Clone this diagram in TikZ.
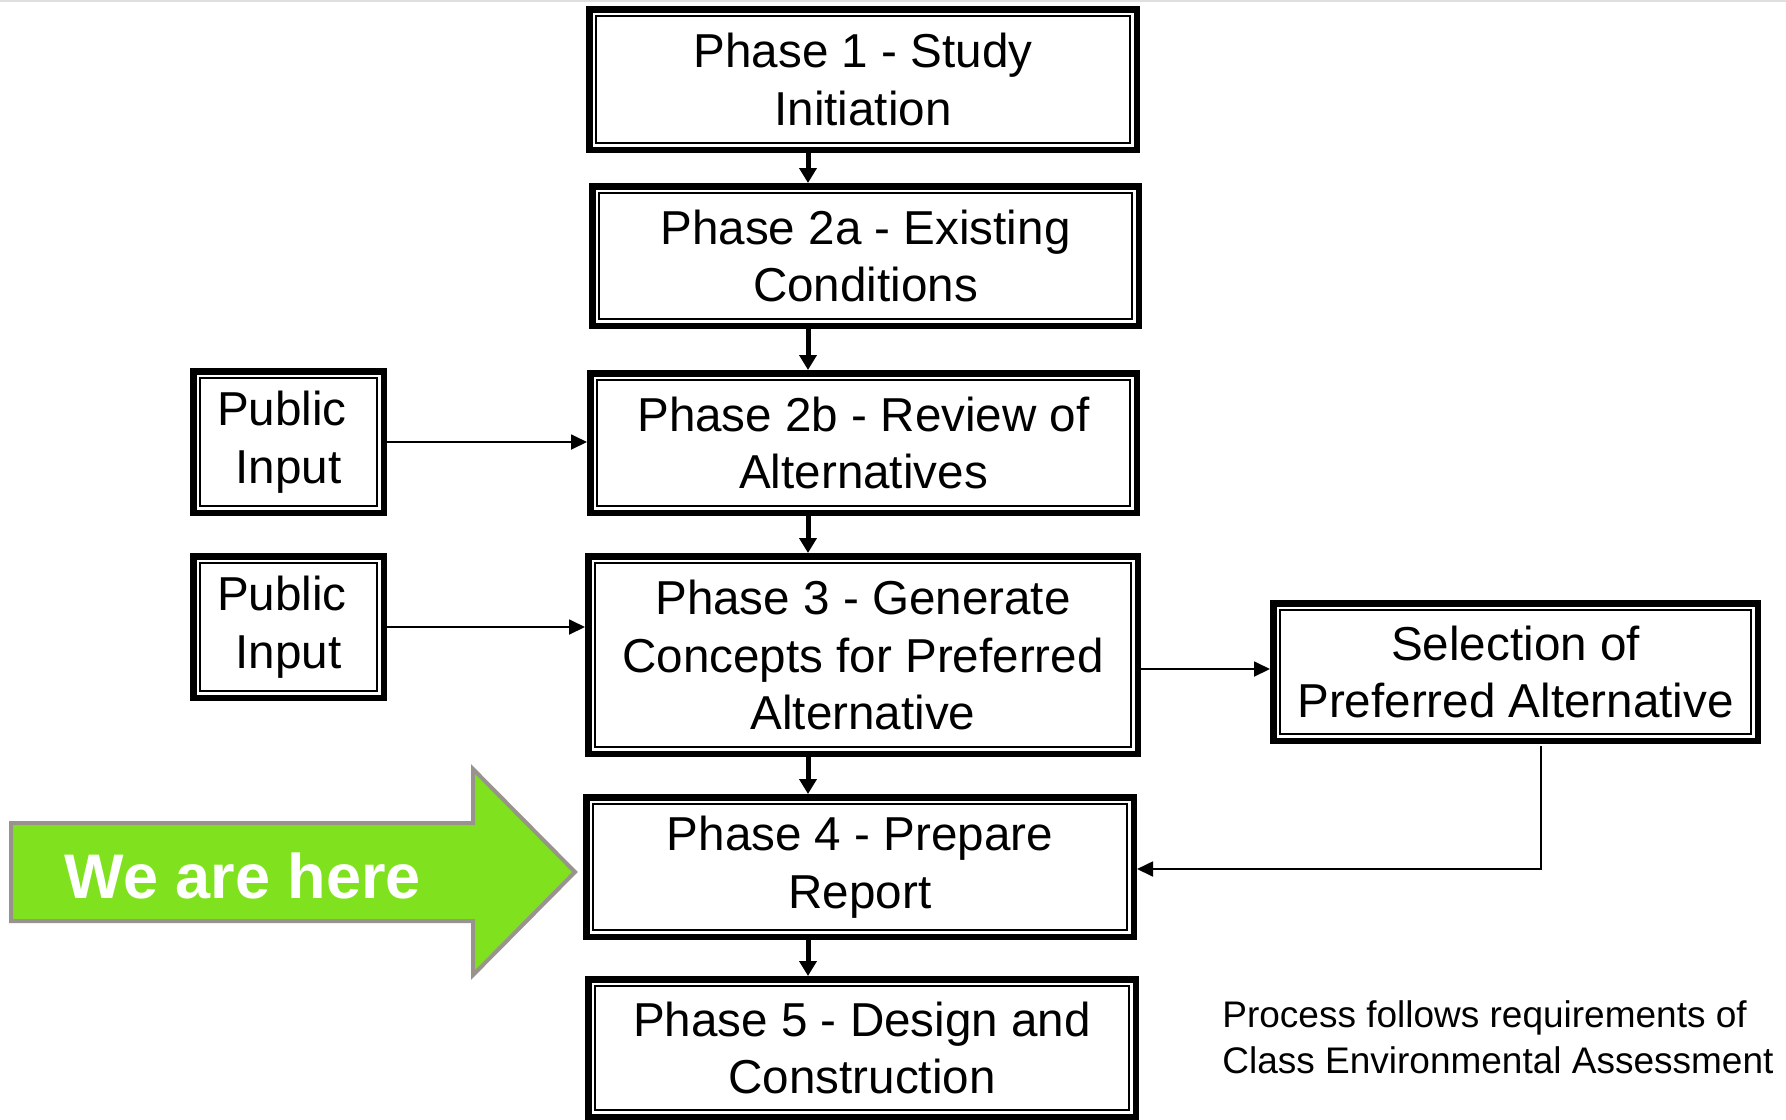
\documentclass[tikz,border=0pt]{standalone}
\usepackage{fontspec}
\setmainfont{Liberation Sans}
\usetikzlibrary{arrows.meta}
\definecolor{arrowgreen}{RGB}{128,226,30}
\definecolor{arrowedge}{RGB}{152,147,140}
\begin{document}
\begin{tikzpicture}[x=0.5pt,y=-0.5pt,
  pbox/.style={draw=black, line width=3.25pt, fill=white, align=center, inner sep=0pt,
    font=\fontsize{23.8}{28.75}\selectfont,
    path picture={\draw[line width=1pt]
      ([shift={(3.4pt,-3.4pt)}]path picture bounding box.north west) rectangle
      ([shift={(-3.4pt,3.4pt)}]path picture bounding box.south east);}},
  flowarrow/.style={line width=2.5pt, -{Triangle[length=7.5pt,width=8.5pt]}},
  inarrow/.style={line width=0.9pt, -{Triangle[length=8pt,width=7.5pt]}},
]
\useasboundingbox (0,0) rectangle (1786,1119);
\fill[white] (0,0) rectangle (1786,1119);
\draw[gray!25, line width=1pt] (0,1) -- (1786,1);

% phase boxes
\node[pbox, minimum width=273.75pt, minimum height=70.25pt] (p1) at (863,79.5) {Phase 1 - Study\\Initiation};
\node[pbox, minimum width=273.25pt, minimum height=69.75pt] (p2a) at (865.5,256) {Phase 2a - Existing\\Conditions};
\node[pbox, minimum width=273.25pt, minimum height=69.75pt] (p2b) at (863.5,443) {Phase 2b - Review of\\Alternatives};
\node[pbox, minimum width=274.75pt, minimum height=98.75pt] (p3) at (863,655) {Phase 3 - Generate\\Concepts for Preferred\\Alternative};
\node[pbox, minimum width=273.75pt, minimum height=69.75pt] (p4) at (860,867) {Phase 4 - Prepare\\Report};
\node[pbox, minimum width=273.75pt, minimum height=68.75pt] (p5) at (862,1048) {Phase 5 - Design and\\Construction};

% side boxes
\node[pbox, minimum width=95.25pt, minimum height=70.75pt] (pi1) at (288.5,442) {Public\kern0.28em\\Input};
\node[pbox, minimum width=95.25pt, minimum height=70.75pt] (pi2) at (288.5,627) {Public\kern0.28em\\Input};
\node[pbox, minimum width=242.25pt, minimum height=68.75pt] (sel) at (1515.5,672) {Selection of\\Preferred Alternative};

% main flow arrows
\coordinate (ax) at (808,0);
\draw[flowarrow] (ax |- p1.south) -- (ax |- p2a.north);
\draw[flowarrow] (ax |- p2a.south) -- (ax |- p2b.north);
\draw[flowarrow] (ax |- p2b.south) -- (ax |- p3.north);
\draw[flowarrow] (ax |- p3.south) -- (ax |- p4.north);
\draw[flowarrow] (ax |- p4.south) -- (ax |- p5.north);

% input arrows
\draw[inarrow] (pi1.east) -- (pi1.east -| p2b.west);
\draw[inarrow] (pi2.east) -- (pi2.east -| p3.west);
\coordinate (r3) at (0,669);
\draw[inarrow] (p3.east |- r3) -- (sel.west |- r3);
\coordinate (dn) at (1541,869);
\draw[inarrow] ([yshift=-1pt]dn |- sel.south) -- (dn) -- (dn -| p4.east);

% we are here arrow
\draw[fill=arrowgreen, draw=arrowedge, line width=2pt]
  (11,823) -- (473,823) -- (473,769) -- (575,872) -- (473,975) -- (473,921) -- (11,921) -- cycle;
\node[anchor=base, text=white, inner sep=0pt, font=\bfseries\fontsize{31.5}{36}\selectfont] (here) at (243,898) {We are here};

% note
\node[anchor=base west, align=left, inner sep=0pt, font=\fontsize{18.5}{22.75}\selectfont] (note) at (1222,1073) {Process follows requirements of\\Class Environmental Assessment};
\end{tikzpicture}
\end{document}
